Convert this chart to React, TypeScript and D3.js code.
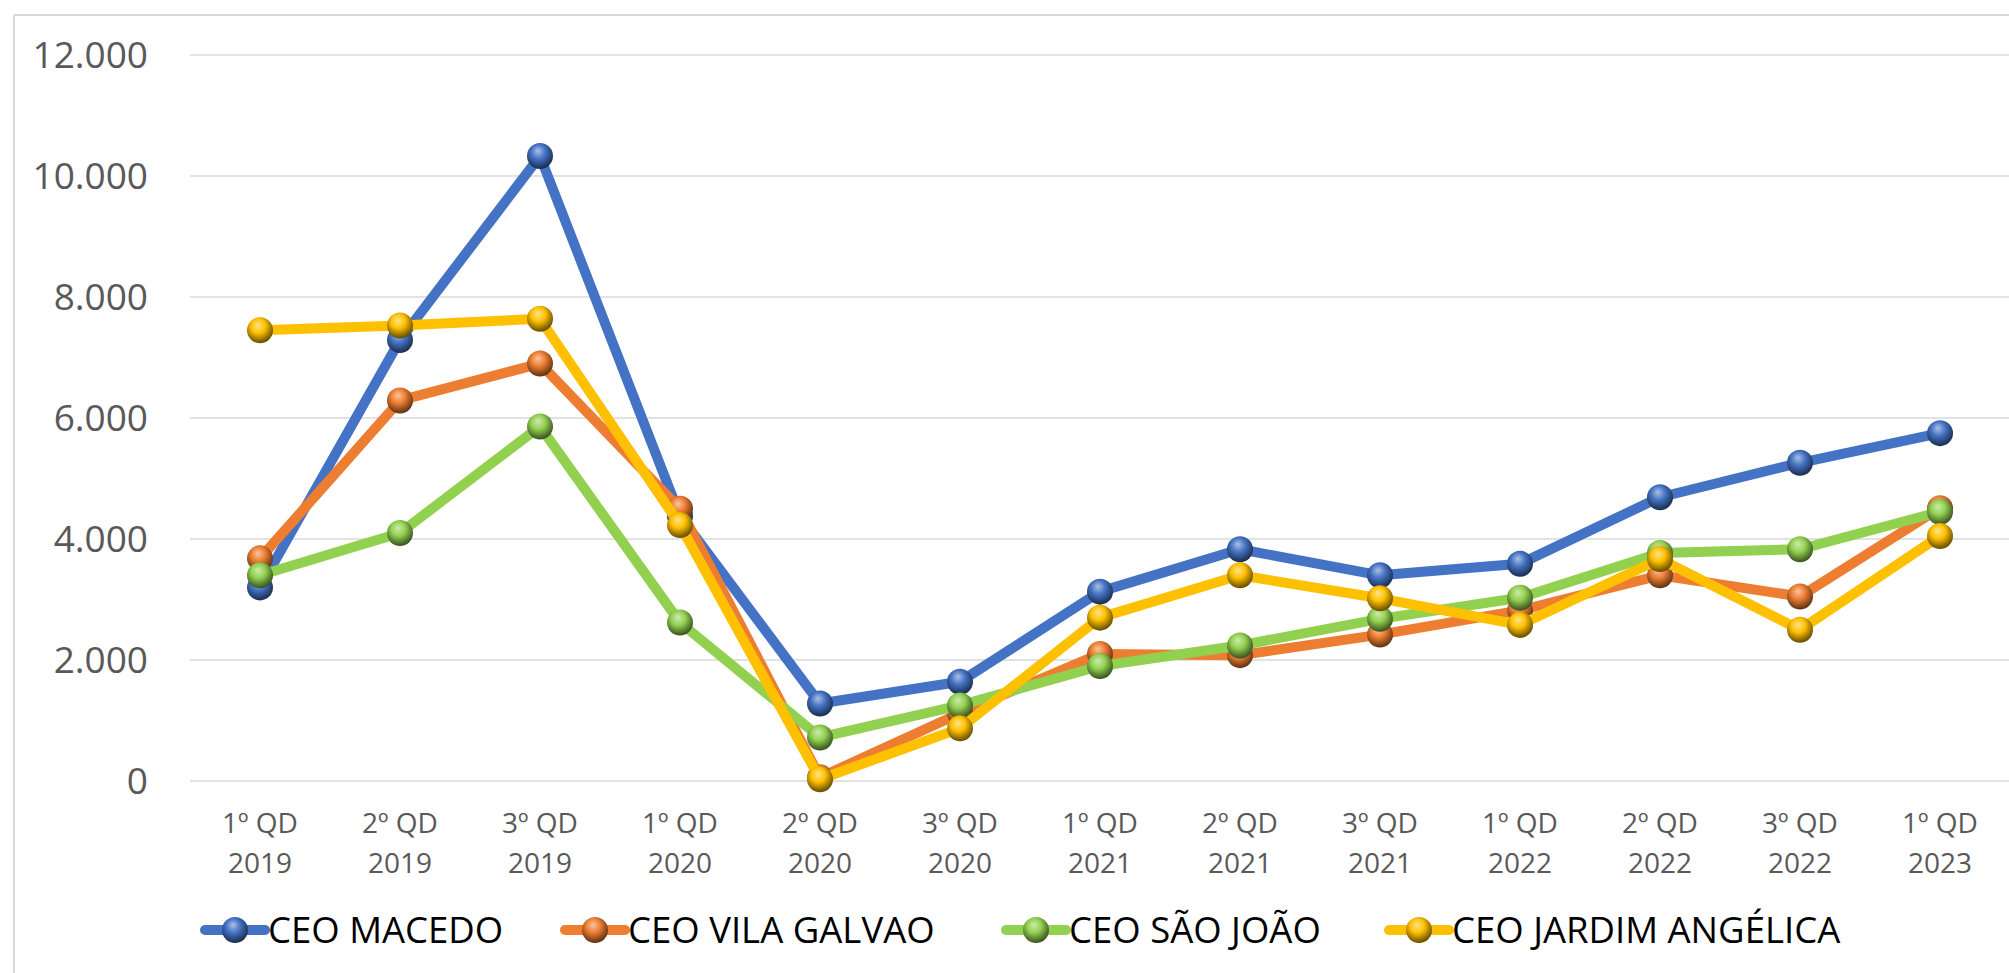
import React from "react";
import * as d3 from "d3";

const categories = [
  ["1º QD", "2019"], ["2º QD", "2019"], ["3º QD", "2019"],
  ["1º QD", "2020"], ["2º QD", "2020"], ["3º QD", "2020"],
  ["1º QD", "2021"], ["2º QD", "2021"], ["3º QD", "2021"],
  ["1º QD", "2022"], ["2º QD", "2022"], ["3º QD", "2022"],
  ["1º QD", "2023"],
];
const seriesNames = ["CEO MACEDO", "CEO VILA GALVAO", "CEO SÃO JOÃO", "CEO JARDIM ANGÉLICA"];
const macedo = [3200, 7290, 10330, 4380, 1280, 1640, 3130, 3830, 3400, 3590, 4690, 5260, 5750];
const vilaGalvao = [3680, 6290, 6900, 4500, 60, 1120, 2100, 2080, 2420, 2820, 3400, 3050, 4510];
const saoJoao = [3400, 4100, 5860, 2620, 720, 1250, 1900, 2240, 2680, 3030, 3770, 3830, 4450];
const jardimAngelica = [7450, 7530, 7640, 4230, 30, 870, 2700, 3400, 3020, 2580, 3670, 2500, 4050];
const yTicks = [0, 2000, 4000, 6000, 8000, 10000, 12000];
const colors = ["#4472C4", "#ED7D31", "#92D050", "#FFC000"];
const legendX = [235, 595, 1036, 1419];

const W = 2009;
const H = 973;
const FONT = "'Open Sans', 'Noto Sans', sans-serif";

export default function App() {
  const seriesValues = [macedo, vilaGalvao, saoJoao, jardimAngelica];
  const x = d3.scalePoint<number>().domain(categories.map((_, i) => i)).range([190, 2010]).padding(0.5);
  const y = d3.scaleLinear().domain([0, 12000]).range([781, 55]);
  const line = d3.line<number>().x((_, i) => x(i) as number).y((v) => y(v));
  const fmt = (v: number) => d3.format(",")(v).replace(/,/g, ".");

  return (
    <div style={{ position: "fixed", left: 0, top: 0 }}>
      <svg width={W} height={H} style={{ display: "block", background: "#fff" }}>
        <defs>
          {colors.map((c, i) => {
            const base = d3.color(c)!;
            const light = d3.interpolateRgb(c, "#ffffff")(0.55);
            const dark = d3.interpolateRgb(c, "#000000")(0.45);
            return (
              <radialGradient key={i} id={`ball${i}`} cx="45%" cy="38%" r="62%" fx="42%" fy="30%">
                <stop offset="0%" stopColor={light} />
                <stop offset="45%" stopColor={base.formatHex()} />
                <stop offset="85%" stopColor={dark} />
                <stop offset="100%" stopColor={d3.interpolateRgb(c, "#000000")(0.6)} />
              </radialGradient>
            );
          })}
        </defs>
        <rect x={0} y={0} width={W} height={H} fill="#fff" />
        <line x1={14} x2={W} y1={15} y2={15} stroke="#d9d9d9" strokeWidth={2} />
        <line x1={14} x2={14} y1={15} y2={H} stroke="#d9d9d9" strokeWidth={2} />
        {yTicks.map((t) => (
          <g key={t}>
            <line x1={190} x2={W} y1={y(t)} y2={y(t)} stroke="#d9d9d9" strokeWidth={1.6} />
            <text x={148} y={y(t) + 13} textAnchor="end" fontFamily={FONT} fontSize={37} fill="#595959">
              {fmt(t)}
            </text>
          </g>
        ))}
        {categories.map((c, i) => (
          <text key={i} textAnchor="middle" fontFamily={FONT} fontSize={28} fill="#595959">
            <tspan x={x(i)} y={833}>{c[0]}</tspan>
            <tspan x={x(i)} y={873}>{c[1]}</tspan>
          </text>
        ))}
        {seriesValues.map((vals, s) => (
          <g key={s}>
            <path d={line(vals) || ""} fill="none" stroke={colors[s]} strokeWidth={10} strokeLinejoin="round" strokeLinecap="round" />
            {vals.map((v, i) => (
              <circle key={i} cx={x(i)} cy={y(v)} r={13} fill={`url(#ball${s})`} />
            ))}
          </g>
        ))}
        {seriesNames.map((n, s) => (
          <g key={n}>
            <line x1={legendX[s] - 30} x2={legendX[s] + 30} y1={930} y2={930} stroke={colors[s]} strokeWidth={10} strokeLinecap="round" />
            <circle cx={legendX[s]} cy={930} r={13} fill={`url(#ball${s})`} />
            <text x={legendX[s] + 33} y={943} fontFamily={FONT} fontSize={36.5} fill="#000">
              {n}
            </text>
          </g>
        ))}
      </svg>
    </div>
  );
}
